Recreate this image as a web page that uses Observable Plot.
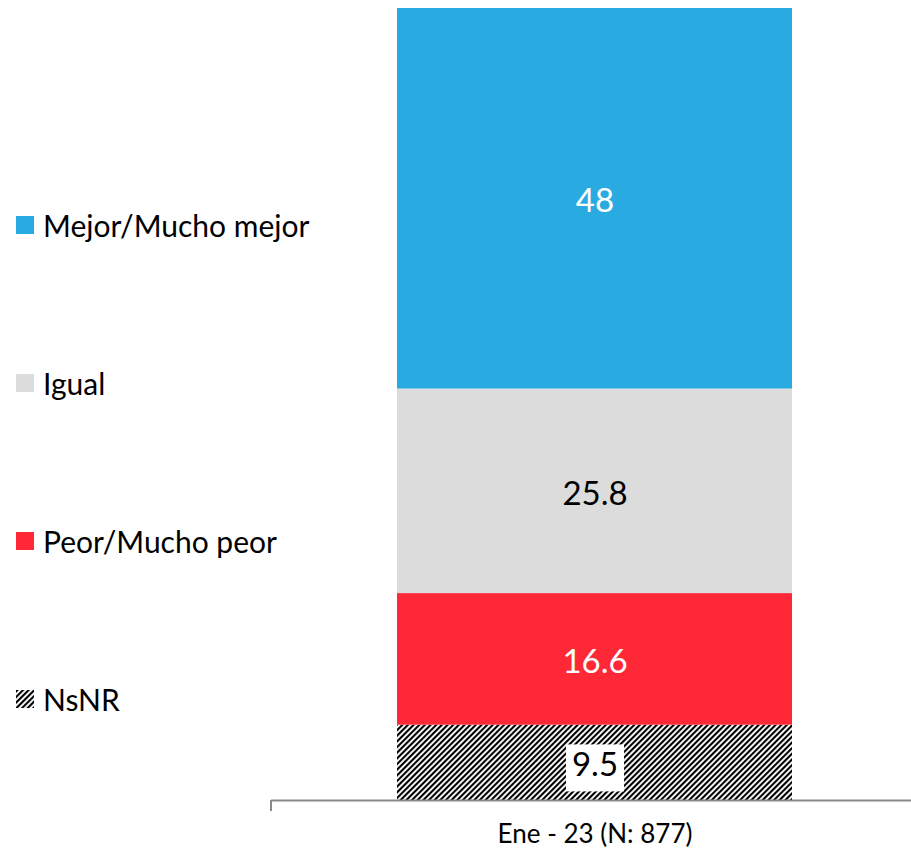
<!DOCTYPE html>
<html>
<head>
<meta charset="utf-8">
<script src="https://cdn.jsdelivr.net/npm/d3@7"></script>
<script src="https://cdn.jsdelivr.net/npm/@observablehq/plot@0.6"></script>
<style>
  html, body { margin: 0; padding: 0; background: #fff; }
  #wrap { position: relative; width: 911px; height: 856px; font-family: Lato, "Open Sans", sans-serif; }
  #legend { position: absolute; left: 16px; top: 207px; display: flex; flex-direction: column; gap: 122px; }
  .item { display: flex; align-items: center; height: 36px; font-size: 30px; color: #000; }
  .sw { width: 18px; height: 18px; margin-right: 9px; flex: none; }
</style>
</head>
<body>
<div id="wrap"><div id="legend"></div></div>
<script>
const period = "Ene - 23 (N: 877)";
const categories = ["NsNR", "Peor/Mucho peor", "Igual", "Mejor/Mucho mejor"];
const values = [9.5, 16.6, 25.8, 48];
const labels = ["9.5", "16.6", "25.8", "48"];
const fills = ["url(#hatch)", "#FF2837", "#DCDCDC", "#29ABE2"];
const lightText = [false, true, false, true];
const legendOrder = ["Mejor/Mucho mejor", "Igual", "Peor/Mucho peor", "NsNR"];

const data = categories.map((c, i) => ({period, category: c, value: values[i], label: labels[i], light: lightText[i]}));
const total = d3.sum(values);

const hatchDef = id => `<pattern id="${id}" patternUnits="userSpaceOnUse" width="4" height="4" patternTransform="rotate(45)">
      <rect width="4" height="4" fill="white"/>
      <rect x="0" y="0" width="2.1" height="4" fill="black"/>
    </pattern>`;

const defs = () => {
  const d = document.createElementNS("http://www.w3.org/2000/svg", "defs");
  d.innerHTML = hatchDef("hatch");
  return d;
};

const chart = Plot.plot({
  width: 911,
  height: 856,
  marginLeft: 271,
  marginRight: 0,
  marginTop: 8,
  marginBottom: 56,
  style: {fontFamily: "Lato, 'Open Sans', sans-serif", background: "white"},
  x: {domain: [period], range: [271, 919], padding: 0.2414, label: null},
  y: {domain: [0, total], axis: null},
  color: {domain: categories, range: fills},
  marks: [
    defs,
    Plot.barY(data, {x: "period", y: "value", fill: "category"}),
    Plot.ruleY([0], {stroke: "#898989", strokeWidth: 2}),
    Plot.text(data, Plot.stackY({x: "period", y: "value", z: "category", text: d => d.light ? "" : d.label, fill: "black", fontSize: 33, dy: 3})),
    Plot.text(data, Plot.stackY({x: "period", y: "value", z: "category", text: d => d.light ? d.label : "", fill: "white", fontSize: 33, dy: 3})),
    Plot.axisX({tickSize: 0, tickPadding: 24, fontSize: 26, fill: "black", label: null})
  ]
});

document.getElementById("wrap").appendChild(chart);

const svg = d3.select(chart);
// left tick at the axis start
svg.append("line").attr("x1", 271).attr("x2", 271).attr("y1", 800).attr("y2", 811)
  .attr("stroke", "#898989").attr("stroke-width", 2);

// white box behind the NsNR label
svg.selectAll("text").filter(function() { return this.textContent === "9.5"; }).each(function() {
  const b = this.getBBox();
  const t = this.getAttribute("transform");
  const r = document.createElementNS("http://www.w3.org/2000/svg", "rect");
  r.setAttribute("x", b.x - 6); r.setAttribute("y", b.y + 1);
  r.setAttribute("width", b.width + 12); r.setAttribute("height", b.height + 7);
  r.setAttribute("fill", "white");
  if (t) r.setAttribute("transform", t);
  this.parentNode.insertBefore(r, this);
});

// legend
const legend = d3.select("#legend");
legendOrder.forEach(c => {
  const i = categories.indexOf(c);
  const item = legend.append("div").attr("class", "item");
  const sw = item.append("svg").attr("class", "sw").attr("width", 18).attr("height", 18);
  if (fills[i].startsWith("url")) {
    sw.append("defs").html(hatchDef("hatchL"));
    sw.append("rect").attr("width", 18).attr("height", 18).attr("fill", "url(#hatchL)");
  } else {
    sw.append("rect").attr("width", 18).attr("height", 18).attr("fill", fills[i]);
  }
  item.append("span").text(c);
});
</script>
</body>
</html>
